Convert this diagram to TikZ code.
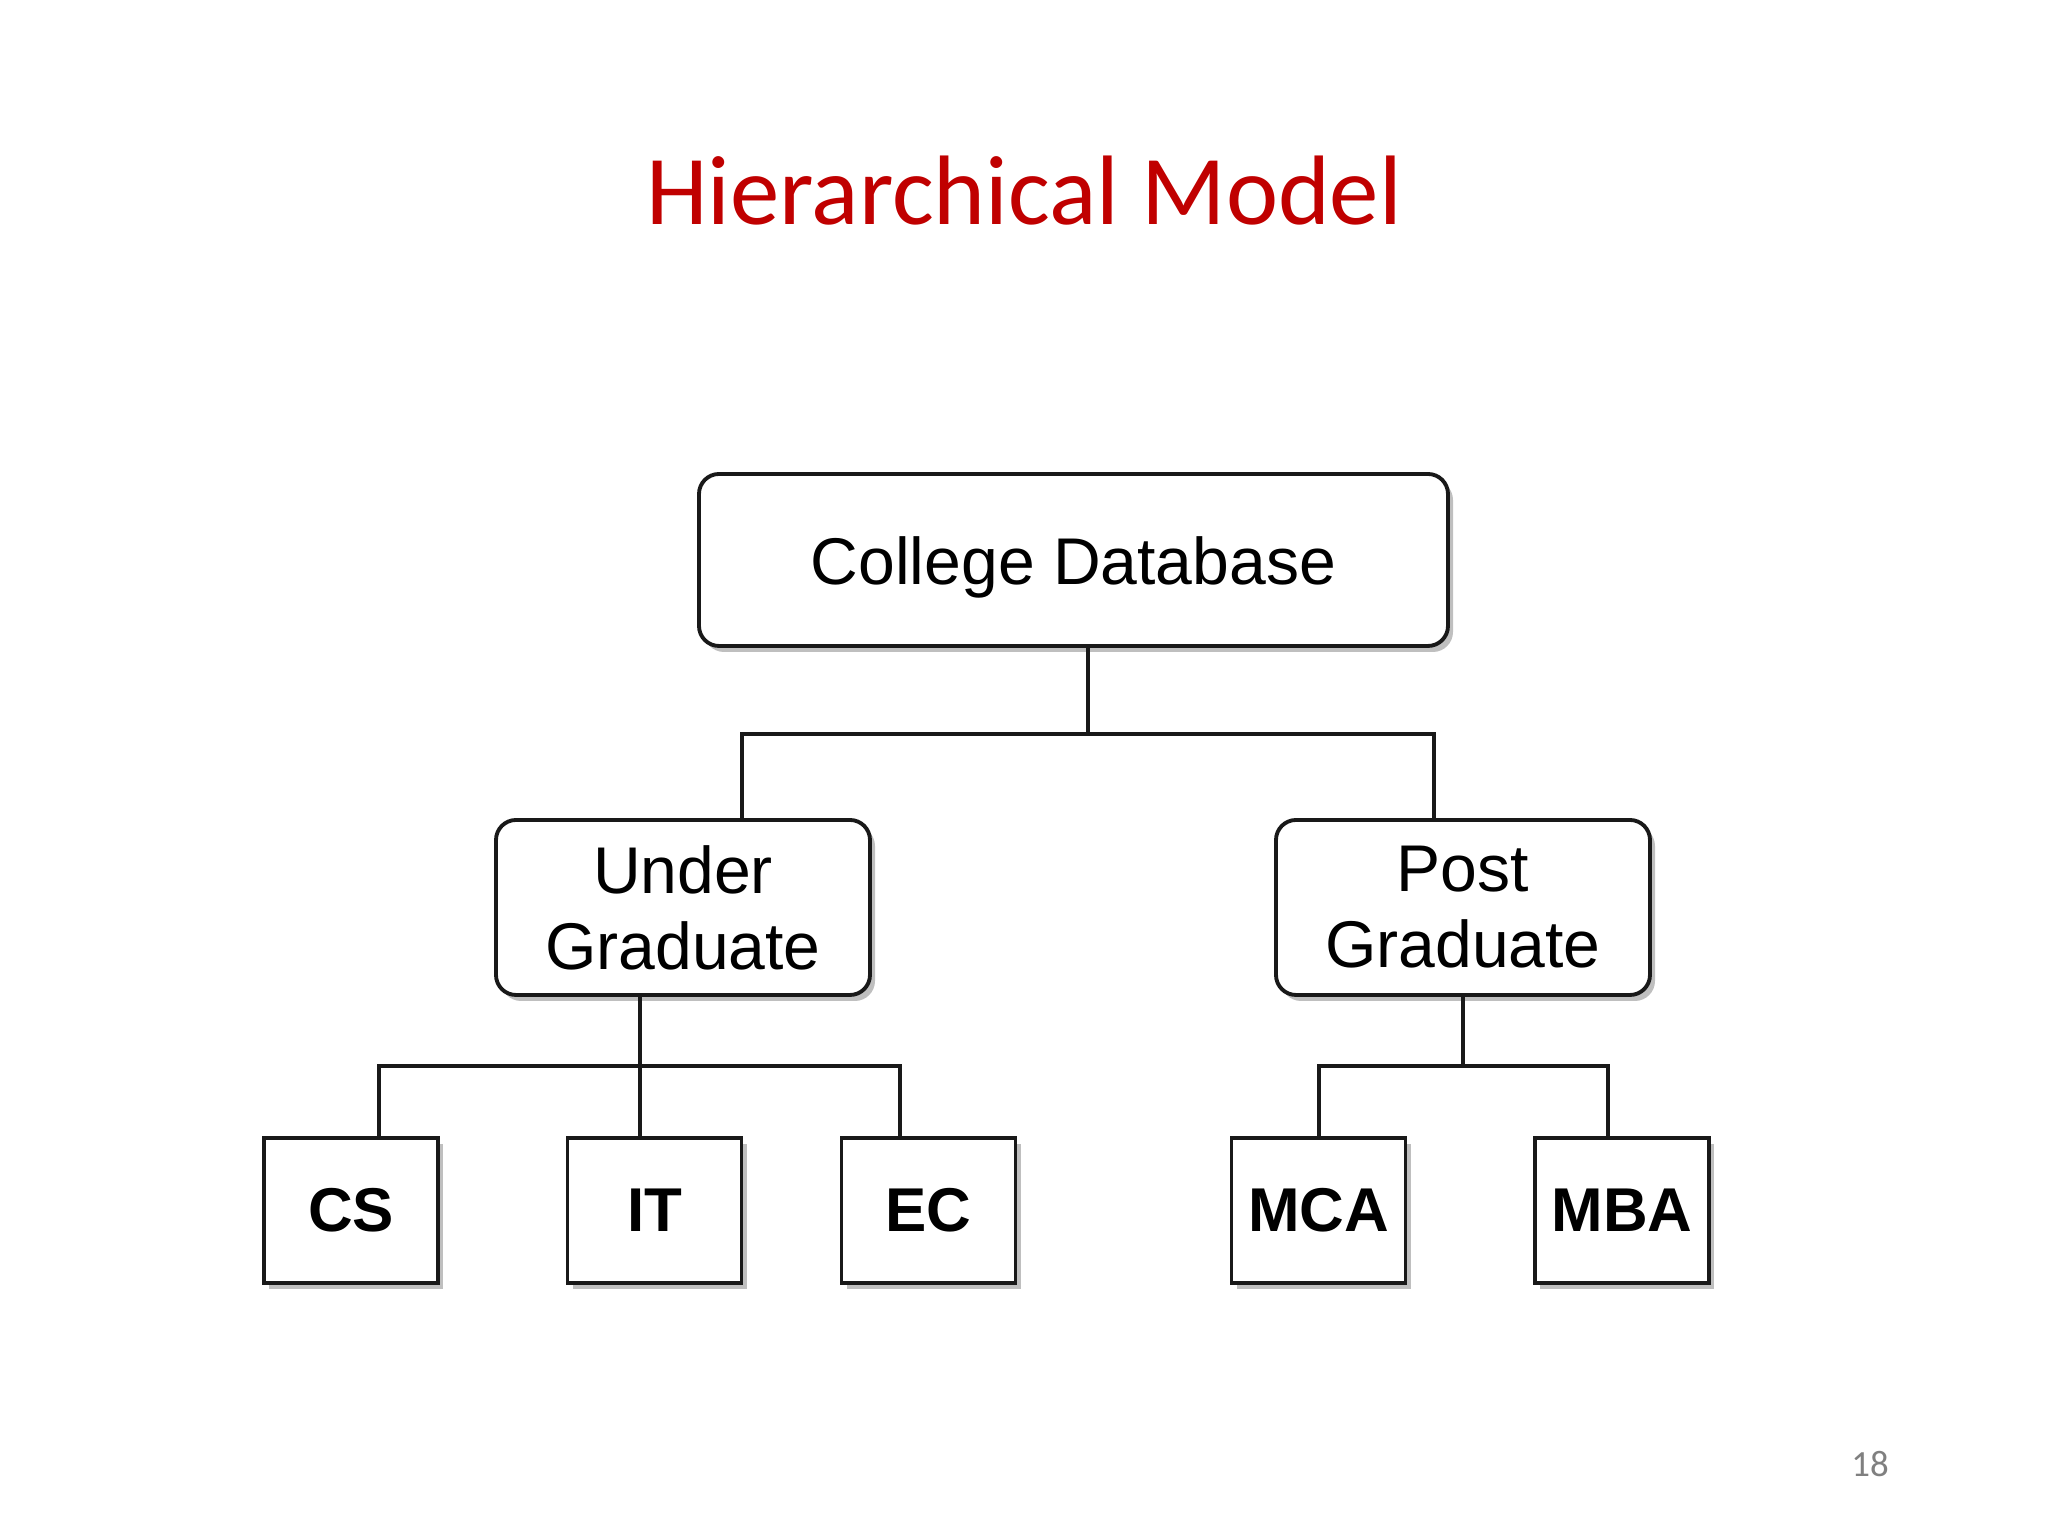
\documentclass[tikz,border=0pt]{standalone}
\usepackage{fontspec}
\setmainfont{Liberation Sans}
\newfontfamily\titlefont{Carlito}
\usepackage{tikz}
\usetikzlibrary{shadows}
\definecolor{titlered}{RGB}{192,0,0}

\begin{document}
\begin{tikzpicture}[
  box/.style={draw=black!90,line width=1.1pt,fill=white,
    drop shadow={shadow xshift=0.5mm,shadow yshift=-0.6mm,fill=black!25,opacity=1}},
  rbox/.style={box,rounded corners=2mm,align=center,
    font=\fontsize{18.8}{21.6}\selectfont},
  leaf/.style={box,minimum width=1.74cm,minimum height=1.45cm,
    font=\fontsize{17.6}{20}\selectfont\bfseries},
  link/.style={draw=black!90,line width=1.3pt}]
\useasboundingbox (0,0) rectangle (20.48,15.36);
\node[anchor=base,text=titlered,font=\fontsize{28.1}{34}\selectfont\titlefont] (title) at (10.24,13.11) {Hierarchical Model};
\node[rbox,minimum width=7.49cm,minimum height=1.72cm,text height=17.8pt] (cd) at (10.735,9.76) {College Database};
\node[rbox,minimum width=3.74cm,minimum height=1.75cm] (ug) at (6.83,6.285) {Under\\Graduate};
\node[rbox,minimum width=3.74cm,minimum height=1.75cm] (pg) at (14.63,6.285) {Post\\Graduate};
\node[leaf] (cs) at (3.51,3.255) {CS};
\node[leaf] (it) at (6.545,3.255) {IT};
\node[leaf] (ec) at (9.285,3.255) {EC};
\node[leaf] (mca) at (13.185,3.255) {MCA};
\node[leaf] (mba) at (16.22,3.255) {MBA};
\node[anchor=base,text=black!50,font=\fontsize{10.5}{12}\selectfont\titlefont] (page) at (18.70,0.59) {18};
% junctions
\coordinate (j1) at (10.88,8.02);
\coordinate (j1l) at (7.42,8.02);
\coordinate (j1r) at (14.34,8.02);
\coordinate (j2) at (6.40,4.70);
\coordinate (j2l) at (3.79,4.70);
\coordinate (j2r) at (9.00,4.70);
\coordinate (j3) at (14.63,4.70);
\coordinate (j3l) at (13.19,4.70);
\coordinate (j3r) at (16.08,4.70);
% connectors
\draw[link] (j1 |- cd.south) -- (j1);
\draw[link] (j1l |- ug.north) -- (j1l) -- (j1r) -- (j1r |- pg.north);
\draw[link] (j2 |- ug.south) -- (j2 |- it.north);
\draw[link] (j2l |- cs.north) -- (j2l) -- (j2r) -- (j2r |- ec.north);
\draw[link] (j3 |- pg.south) -- (j3);
\draw[link] (j3l |- mca.north) -- (j3l) -- (j3r) -- (j3r |- mba.north);
\end{tikzpicture}
\end{document}
